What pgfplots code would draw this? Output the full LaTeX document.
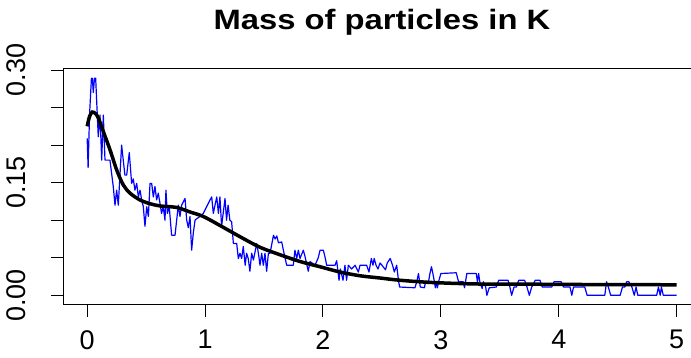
\documentclass[border=0pt]{standalone}
\usepackage{fontspec}
\setmainfont{Liberation Sans}
\usepackage{graphicx}
\usepackage{pgfplots}
\usepackage{pgfplotstable}
\pgfplotsset{compat=1.18}

\pgfplotstableread{
x y
0.000 0.209
0.008 0.170
0.020 0.240
0.036 0.289
0.044 0.289
0.052 0.270
0.062 0.289
0.072 0.289
0.094 0.211
0.109 0.240
0.123 0.180
0.137 0.240
0.151 0.180
0.193 0.180
0.221 0.145
0.236 0.120
0.250 0.140
0.264 0.120
0.292 0.200
0.320 0.160
0.335 0.160
0.357 0.190
0.377 0.149
0.391 0.155
0.405 0.140
0.420 0.149
0.434 0.131
0.448 0.140
0.462 0.127
0.476 0.118
0.490 0.092
0.505 0.118
0.519 0.105
0.533 0.149
0.547 0.149
0.561 0.131
0.575 0.145
0.589 0.127
0.603 0.136
0.617 0.123
0.631 0.109
0.645 0.118
0.660 0.100
0.668 0.140
0.680 0.109
0.696 0.118
0.716 0.080
0.745 0.080
0.773 0.120
0.787 0.105
0.801 0.120
0.830 0.129
0.844 0.100
0.858 0.090
0.872 0.105
0.886 0.060
0.900 0.083
0.915 0.100
0.929 0.102
0.957 0.105
0.985 0.109
1.013 0.118
1.042 0.127
1.056 0.131
1.070 0.109
1.084 0.120
1.099 0.131
1.113 0.109
1.126 0.131
1.140 0.092
1.169 0.129
1.182 0.100
1.195 0.120
1.210 0.100
1.225 0.098
1.240 0.069
1.268 0.069
1.282 0.049
1.296 0.056
1.310 0.049
1.324 0.065
1.340 0.040
1.352 0.056
1.366 0.049
1.380 0.032
1.395 0.056
1.410 0.047
1.424 0.058
1.438 0.069
1.452 0.056
1.466 0.040
1.480 0.056
1.494 0.040
1.508 0.056
1.522 0.032
1.537 0.056
1.551 0.056
1.580 0.080
1.594 0.075
1.608 0.079
1.622 0.070
1.650 0.071
1.664 0.060
1.692 0.040
1.748 0.040
1.762 0.060
1.777 0.049
1.791 0.060
1.805 0.049
1.833 0.060
1.847 0.052
1.875 0.032
1.890 0.045
1.932 0.040
1.960 0.050
1.975 0.060
2.003 0.060
2.020 0.049
2.031 0.040
2.102 0.040
2.116 0.046
2.136 0.020
2.147 0.035
2.170 0.020
2.186 0.040
2.200 0.020
2.215 0.040
2.243 0.035
2.272 0.040
2.300 0.031
2.314 0.040
2.370 0.040
2.390 0.031
2.410 0.049
2.424 0.040
2.434 0.049
2.450 0.040
2.466 0.035
2.484 0.043
2.500 0.040
2.530 0.034
2.545 0.043
2.570 0.049
2.590 0.040
2.605 0.031
2.625 0.040
2.640 0.020
2.650 0.011
2.780 0.010
2.795 0.018
2.810 0.029
2.825 0.011
2.860 0.010
2.870 0.018
2.895 0.018
2.907 0.029
2.920 0.038
2.932 0.029
2.945 0.018
2.953 0.010
2.962 0.018
2.970 0.010
2.980 0.018
3.000 0.029
3.130 0.030
3.150 0.018
3.190 0.018
3.200 0.010
3.220 0.029
3.300 0.029
3.310 0.018
3.320 0.029
3.330 0.018
3.350 0.009
3.360 0.018
3.380 0.011
3.390 0.000
3.410 0.010
3.470 0.011
3.490 0.020
3.570 0.020
3.585 0.011
3.600 0.000
3.620 0.011
3.640 0.011
3.660 0.020
3.710 0.020
3.730 0.011
3.750 0.000
3.770 0.011
3.800 0.020
3.840 0.020
3.860 0.011
3.940 0.011
3.960 0.018
4.020 0.018
4.040 0.011
4.095 0.011
4.110 0.000
4.125 0.011
4.220 0.011
4.240 0.000
4.390 0.000
4.405 0.018
4.420 0.011
4.440 0.000
4.520 0.000
4.540 0.011
4.560 0.011
4.575 0.018
4.594 0.018
4.620 0.011
4.640 0.000
4.655 0.011
4.670 0.000
4.830 0.000
4.845 0.011
4.860 0.000
4.870 0.011
4.886 0.000
5.000 0.000
}\observed

\pgfplotstableread{
x y
0.000 0.225
0.020 0.238
0.043 0.244
0.070 0.242
0.095 0.236
0.137 0.218
0.193 0.194
0.250 0.167
0.306 0.147
0.363 0.136
0.447 0.127
0.532 0.122
0.617 0.119
0.758 0.117
0.871 0.111
0.984 0.105
1.126 0.093
1.296 0.078
1.465 0.064
1.635 0.054
1.805 0.045
1.975 0.038
2.144 0.031
2.314 0.026
2.484 0.023
2.653 0.020
2.930 0.017
3.330 0.015
3.840 0.0147
4.400 0.0142
5.000 0.0140
}\smoothed

\begin{document}
\begin{tikzpicture}
\useasboundingbox (-63.6bp,-54bp) rectangle (627.4bp,304bp);
\clip (-63.6bp,-54bp) rectangle (627.4bp,304bp);
\begin{axis}[
  anchor=south west, at={(0,0)},
  scale only axis,
  width=636.7bp, height=235.2bp,
  xmin=-0.2, xmax=5.2,
  ymin=-0.0116, ymax=0.3016,
  axis line style={line width=1bp, black},
  tick style={line width=1bp, black},
  tick align=outside,
  major tick length=12.5bp,
  xtick pos=left, ytick pos=left,
  xtick={0,1,2,3,4,5},
  xticklabels={0,1,2,3,4,5},
  ytick={0,0.05,0.10,0.15,0.20,0.25,0.30},
  yticklabels={0.00,,,0.15,,,0.30},
  ticklabel style={font=\fontsize{27bp}{32bp}\selectfont},
  xticklabel style={anchor=north, inner sep=0pt},
  yticklabel style={rotate=90, anchor=south, inner sep=0pt},
  xticklabel shift=13.5bp,
  yticklabel shift=25bp,
  /pgf/number format/assume math mode=true,
  every axis title shift=0pt,
  title={\scalebox{1.17}[1]{Mass of particles in K}},
  title style={at={(axis description cs:0.5,1)}, anchor=base, yshift=39.5bp,
    font=\fontsize{28bp}{33bp}\selectfont\bfseries, inner sep=0pt},
]
\addplot[blue, line width=1.2bp, line join=round, mark=none] table[x=x,y=y] {\observed};
\addplot[black, line width=3.5bp, smooth, mark=none] table[x=x,y=y] {\smoothed};
\end{axis}
\end{tikzpicture}
\end{document}
